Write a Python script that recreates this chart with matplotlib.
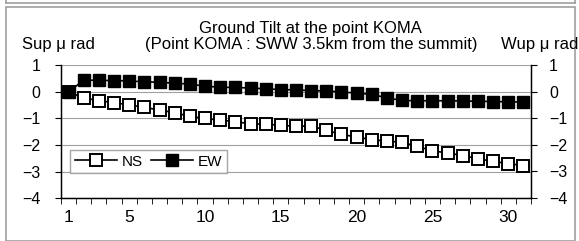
import matplotlib.pyplot as plt
from matplotlib.lines import Line2D
from matplotlib.patches import Rectangle

plt.rcParams['font.family'] = ['Liberation Sans', 'DejaVu Sans']

# ====== data ======
days = list(range(1, 32))
ns = [0.0, -0.22, -0.33, -0.40, -0.49, -0.58, -0.68, -0.78, -0.92, -1.0,
      -1.06, -1.12, -1.2, -1.22, -1.25, -1.3, -1.28, -1.45, -1.6, -1.7,
      -1.8, -1.85, -1.9, -2.05, -2.22, -2.3, -2.4, -2.52, -2.62, -2.7, -2.78]
ew = [0.0, 0.45, 0.44, 0.43, 0.42, 0.38, 0.37, 0.33, 0.30, 0.22,
      0.18, 0.17, 0.15, 0.12, 0.09, 0.08, 0.05, 0.04, 0.0, -0.04,
      -0.09, -0.22, -0.32, -0.33, -0.33, -0.33, -0.34, -0.35, -0.36, -0.37, -0.38]
xtick_labels = [1, 5, 10, 15, 20, 25, 30]
yticks = [1, 0, -1, -2, -3, -4]

W, H = 579, 241
fig = plt.figure(figsize=(W / 100, H / 100), dpi=100)

# outer gray frames
fig.add_artist(Rectangle((6 / W, 0), 569 / W, (H - 7) / H, transform=fig.transFigure,
                         fill=False, edgecolor="#a0a0a0", lw=1.2))
fig.add_artist(Line2D([6 / W, 575 / W], [1 - 3 / H, 1 - 3 / H], transform=fig.transFigure,
                      color="#a0a0a0", lw=1.2))
fig.add_artist(Line2D([6 / W, 6 / W], [1 - 3 / H, 1], transform=fig.transFigure,
                      color="#a0a0a0", lw=1.2))
fig.add_artist(Line2D([575 / W, 575 / W], [1 - 3 / H, 1], transform=fig.transFigure,
                      color="#a0a0a0", lw=1.2))

ax = fig.add_axes([61 / W, 1 - 198 / H, 470 / W, 132.5 / H])

ax.plot(days, ns, color="black", lw=1.2, marker="s", markersize=8.5,
        markerfacecolor="white", markeredgecolor="black", markeredgewidth=1.4,
        label="NS", zorder=3)
ax.plot(days, ew, color="black", lw=1.2, marker="s", markersize=8.5,
        markerfacecolor="black", markeredgecolor="black",
        label="EW", zorder=4)

ax.set_xlim(0.5, 31.5)
ax.set_ylim(-4, 1)
ax.set_yticks(yticks)
ax.set_xticks(xtick_labels)
ax.set_xticks([d + 0.5 for d in range(0, 32)], minor=True)
ax.tick_params(axis="x", which="major", length=0, pad=9, labelsize=12.5)
ax.tick_params(axis="x", which="minor", length=4, direction="out")
ax.tick_params(axis="y", length=4, direction="out", pad=11, labelsize=11.5)
ax.grid(axis="y", color="#a0a0a0", lw=0.8)
ax.spines["top"].set_visible(False)
for s in ["left", "right", "bottom"]:
    ax.spines[s].set_linewidth(1.0)

ax2 = ax.twinx()
ax2.set_ylim(-4, 1)
ax2.set_yticks(yticks)
ax2.tick_params(axis="y", length=4, direction="out", pad=9, labelsize=11.5)
ax2.spines["top"].set_visible(False)

leg = ax.legend(loc="upper left", bbox_to_anchor=(70 / W, 1 - 150 / H),
                bbox_transform=fig.transFigure, ncol=2, frameon=True, fancybox=False,
                handlelength=2.8, handletextpad=0.3, columnspacing=0.5,
                borderpad=0.3, borderaxespad=0, fontsize=11)
leg.get_frame().set_edgecolor("#909090")
leg.get_frame().set_linewidth(1.0)

fig.text(310 / W, 1 - 29 / H, "Ground Tilt at the point KOMA", ha="center", va="center",
         fontsize=12)
fig.text(311 / W, 1 - 45 / H, "(Point KOMA : SWW 3.5km from the summit)", ha="center",
         va="center", fontsize=12)
fig.text(22 / W, 1 - 45 / H, "Sup μ rad", ha="left", va="center", fontsize=12)
fig.text(578 / W, 1 - 44 / H, "Wup μ rad", ha="right", va="center", fontsize=12)

fig.savefig("out.png", dpi=100)
